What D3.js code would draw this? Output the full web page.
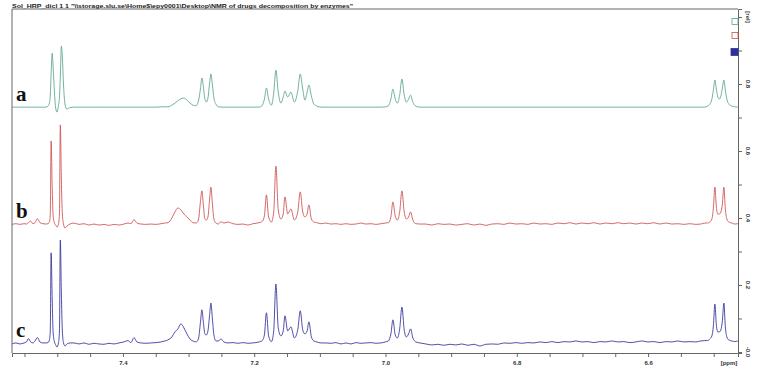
<!DOCTYPE html>
<html>
<head>
<meta charset="utf-8">
<script src="https://cdn.jsdelivr.net/npm/d3@7"></script>
<style>
  body { margin: 0; background: #fff; }
  svg { display: block; }
  text { font-family: "Liberation Sans", Arial, sans-serif; }
  text.lbl { font-family: "Liberation Serif", "Times New Roman", serif; }
</style>
</head>
<body>
<svg id="chart" width="763" height="374"></svg>
<script>
const title = String.raw`Sol_HRP_dicl  1  1  "\\storage.slu.se\Home$\epy0001\Desktop\NMR of drugs decomposition by enzymes"`;

// chemical shift grid (ppm), shared by the three traces
const ppm = [
  7.5691, 7.5630, 7.5569, 7.5508, 7.5470, 7.5439, 7.5409, 7.5371, 7.5340, 7.5302, 7.5264, 7.5219, 7.5173,
  7.5142, 7.5120, 7.5107, 7.5094, 7.5078, 7.5063, 7.5043, 7.5024, 7.5005, 7.4982, 7.4967, 7.4954, 7.4938, 7.4923, 7.4905, 7.4883, 7.4853, 7.4807,
  7.4746, 7.4670, 7.4594, 7.4518, 7.4442, 7.4366, 7.4289, 7.4213, 7.4137, 7.4061, 7.3985, 7.3924, 7.3878, 7.3832, 7.3787, 7.3726, 7.3650, 7.3574, 7.3497, 7.3421, 7.3360,
  7.3315, 7.3254, 7.3208, 7.3162, 7.3117, 7.3071, 7.3025, 7.2979, 7.2934, 7.2888, 7.2850, 7.2820, 7.2797, 7.2774, 7.2751, 7.2728, 7.2705, 7.2679, 7.2660, 7.2637, 7.2614, 7.2583, 7.2545, 7.2507, 7.2462, 7.2401,
  7.2324, 7.2248, 7.2172, 7.2096, 7.2020,
  7.1928, 7.1883, 7.1845, 7.1814, 7.1781, 7.1738, 7.1703, 7.1670, 7.1634, 7.1593, 7.1558, 7.1532, 7.1490, 7.1441, 7.1388, 7.1337, 7.1299, 7.1261, 7.1228, 7.1194, 7.1167, 7.1129, 7.1091, 7.1045, 7.0984,
  7.0908, 7.0832, 7.0756, 7.0679, 7.0603, 7.0527, 7.0451, 7.0375, 7.0299, 7.0222, 7.0146, 7.0070, 7.0002,
  6.9956, 6.9918, 6.9887, 6.9852, 6.9819, 6.9784, 6.9750, 6.9715, 6.9682, 6.9648, 6.9618, 6.9583, 6.9537, 6.9476,
  6.9385, 6.9293, 6.9202, 6.9111, 6.9019, 6.8928, 6.8836, 6.8745, 6.8654, 6.8562, 6.8471, 6.8380, 6.8288, 6.8197, 6.8105, 6.8014,
  6.7923, 6.7831, 6.7740, 6.7648, 6.7557, 6.7466, 6.7374, 6.7283, 6.7191, 6.7100, 6.7009, 6.6917, 6.6826, 6.6734, 6.6643, 6.6552,
  6.6460, 6.6369, 6.6277, 6.6186, 6.6095, 6.6003, 6.5912, 6.5820, 6.5729, 6.5638, 6.5546, 6.5455, 6.5363, 6.5272, 6.5196, 6.5135,
  6.5097, 6.5059, 6.5028, 6.5005, 6.4982, 6.4960, 6.4937, 6.4914, 6.4891, 6.4868, 6.4845, 6.4823, 6.4800, 6.4769, 6.4724, 6.4678, 6.4632
];

// intensity above each trace's own baseline (rel)
const specA = [
  0, 0, 0, 0, 0, 0, 0, 0, 0, 0, 0, 0, 0,
  0.003, 0.012, 0.036, 0.099, 0.161, 0.119, 0.042, -0.003, -0.015, 0.006, 0.030, 0.090, 0.182, 0.149, 0.066, 0.009, -0.006, -0.001,
  0, 0, 0, 0, 0, 0, 0, 0, 0, 0, 0, 0, 0, 0, 0, 0, 0, 0, 0, 0.001, 0.001,
  0.001, 0.006, 0.012, 0.019, 0.025, 0.027, 0.021, 0.012, 0.006, 0.004, 0.018, 0.054, 0.087, 0.060, 0.024, 0.015, 0.027, 0.072, 0.099, 0.066, 0.027, 0.009, 0.001, 0, 0, 0,
  0, 0, 0, 0, 0,
  0, 0.004, 0.024, 0.057, 0.024, 0.006, 0.042, 0.110, 0.045, 0.012, 0.030, 0.048, 0.030, 0.045, 0.015, 0.048, 0.099, 0.054, 0.021, 0.045, 0.066, 0.033, 0.009, 0.003, 0,
  0, 0, 0, 0, 0, 0, 0, 0, 0, 0, 0, 0, 0.001,
  0.004, 0.024, 0.054, 0.024, 0.012, 0.036, 0.084, 0.036, 0.015, 0.024, 0.036, 0.015, 0.003, 0,
  0, 0, 0, 0, 0, 0, 0, 0, 0, 0, 0, 0, 0, 0, 0, 0,
  0, 0, 0, 0, 0, 0, 0, 0, 0, 0, 0, 0, 0, 0, 0, 0,
  0, 0, 0, 0, 0, 0, 0, 0, 0, 0, 0, 0, 0, 0, 0, 0,
  0.003, 0.009, 0.024, 0.051, 0.081, 0.054, 0.030, 0.024, 0.033, 0.057, 0.081, 0.051, 0.024, 0.009, 0.003, 0.001, 0
];

const specB = [
  -0.001, 0.001, -0.001, 0.001, 0, 0.004, 0.009, 0.001, 0.004, 0.016, 0.004, 0.001, 0,
  0.001, 0.006, 0.030, 0.248, 0.113, 0.024, 0.003, -0.003, -0.009, 0, 0.030, 0.296, 0.134, 0.030, 0, -0.012, -0.006, 0,
  0.003, -0.001, 0.001, -0.003, 0, -0.003, -0.001, -0.004, -0.001, -0.003, 0, 0.003, 0.001, 0.013, 0.003, 0, -0.001, 0, -0.001, 0.001, 0.003,
  0.004, 0.018, 0.036, 0.048, 0.042, 0.030, 0.021, 0.012, 0.004, 0.003, 0.012, 0.066, 0.099, 0.054, 0.015, 0.012, 0.021, 0.075, 0.110, 0.060, 0.015, 0.003, 0, 0.007, 0.003, 0.006,
  0.001, -0.001, 0, -0.003, 0.001,
  0.004, 0.007, 0.024, 0.087, 0.021, 0.006, 0.036, 0.173, 0.042, 0.015, 0.030, 0.081, 0.030, 0.045, 0.012, 0.036, 0.096, 0.036, 0.021, 0.030, 0.057, 0.015, 0.006, 0.004, 0.001,
  0.003, 0, 0.001, -0.001, 0.001, -0.001, 0, 0.003, 0, 0.001, -0.001, 0.001, 0.003,
  0.004, 0.021, 0.066, 0.024, 0.012, 0.036, 0.099, 0.036, 0.015, 0.021, 0.036, 0.012, 0.001, 0,
  0, -0.003, 0.001, -0.001, 0, -0.003, -0.001, 0.001, -0.003, 0, -0.004, 0, 0.001, -0.001, 0.003, 0,
  0.001, -0.001, 0.003, 0, 0.001, -0.001, 0.003, 0.001, 0.004, 0, 0.003, 0.001, 0.004, 0, 0.003, 0.001,
  0.004, 0.001, 0.003, 0, 0.003, 0.001, 0.004, 0, 0.003, 0, 0.001, -0.001, 0.001, -0.001, 0, 0.003,
  0.003, 0.006, 0.015, 0.048, 0.110, 0.051, 0.030, 0.030, 0.036, 0.060, 0.110, 0.045, 0.015, 0.006, 0.003, 0, 0.001
];

const specC = [
  -0.003, 0, -0.003, 0, 0.003, 0.013, 0.004, 0, 0.006, 0.016, 0.003, 0, 0,
  0.001, 0.009, 0.036, 0.269, 0.134, 0.030, 0.003, -0.006, -0.012, 0, 0.036, 0.307, 0.149, 0.036, 0, -0.009, -0.003, 0,
  0, -0.003, 0, -0.004, -0.001, -0.003, -0.004, -0.001, -0.003, 0, 0.003, 0.007, 0.001, 0.016, 0.003, 0, -0.001, 0, 0.001, 0.003, 0.006,
  0.009, 0.018, 0.033, 0.042, 0.057, 0.045, 0.027, 0.012, 0.006, 0.003, 0.012, 0.060, 0.099, 0.060, 0.027, 0.024, 0.036, 0.084, 0.119, 0.072, 0.024, 0.006, 0.006, 0.012, 0.003, 0,
  0.001, -0.001, 0.001, -0.001, 0,
  0.003, 0.006, 0.024, 0.090, 0.021, 0.004, 0.036, 0.176, 0.045, 0.021, 0.036, 0.081, 0.036, 0.048, 0.015, 0.039, 0.096, 0.039, 0.027, 0.036, 0.063, 0.018, 0.006, 0.003, 0,
  0, -0.001, 0.001, -0.003, 0, -0.003, 0.001, -0.001, 0, 0.001, -0.001, 0, 0.003,
  0.006, 0.027, 0.069, 0.024, 0.015, 0.042, 0.107, 0.039, 0.018, 0.027, 0.042, 0.015, 0.003, 0,
  -0.003, -0.006, -0.004, -0.007, -0.004, -0.006, -0.003, -0.007, -0.004, -0.009, -0.004, -0.003, -0.004, 0, -0.001, 0.001,
  -0.001, 0.001, 0, 0.003, 0.001, 0.004, 0.001, 0.004, 0.003, 0.006, 0.003, 0.004, 0.001, 0.004, 0.003, 0.006,
  0.003, 0.004, 0.001, 0.003, 0.006, 0.003, 0.004, 0.001, 0.004, 0.003, 0.006, 0.003, 0.004, 0.003, 0.006, 0.007,
  0.007, 0.012, 0.021, 0.051, 0.116, 0.054, 0.033, 0.033, 0.039, 0.066, 0.119, 0.048, 0.018, 0.009, 0.006, 0.004, 0.006
];

const traceNames = ['a', 'b', 'c'];
const traceOffsets = [0.731, 0.382, 0.027];
const traceColors = ['#5aa586', '#cc4f52', '#30309a'];

const ppmTicks = [7.55, 7.5, 7.45, 7.4, 7.35, 7.3, 7.25, 7.2, 7.15, 7.1, 7.05, 7.0, 6.95, 6.9, 6.85, 6.8, 6.75, 6.7, 6.65, 6.6, 6.55, 6.5];
const ppmLabels = [7.4, 7.2, 7.0, 6.8, 6.6];
const relTicks = [0, 0.1, 0.2, 0.3, 0.4, 0.5, 0.6, 0.7, 0.8, 0.9, 1.0];
const relLabels = [0, 0.2, 0.4, 0.6, 0.8];

const svg = d3.select('#chart');
const pLeft = 12, pRight = 738, pTop = 9, pBottom = 353;

const x = d3.scaleLinear().domain([7.569, 6.463]).range([pLeft, pRight]);
const y = d3.scaleLinear().domain([-0.003, 1.024]).range([pBottom, pTop]);

svg.append('text')
    .attr('x', 12).attr('y', 7.5)
    .attr('font-size', 6.2).attr('font-weight', 'bold')
    .attr('textLength', 341).attr('lengthAdjust', 'spacingAndGlyphs')
    .attr('fill', '#222')
    .text(title);

svg.append('defs').append('clipPath').attr('id', 'plotclip')
  .append('rect').attr('x', pLeft).attr('y', pTop).attr('width', pRight - pLeft).attr('height', pBottom - pTop);

const specs = [specA, specB, specC];
const plot = svg.append('g').attr('clip-path', 'url(#plotclip)');

specs.forEach((spec, k) => {
  const line = d3.line()
      .x(i => x(ppm[i]))
      .y(i => y(traceOffsets[k] + spec[i]))
      .curve(d3.curveMonotoneX);
  plot.append('path')
      .attr('d', line(d3.range(ppm.length)))
      .attr('fill', 'none')
      .attr('stroke', traceColors[k])
      .attr('stroke-width', 0.85)
      .attr('stroke-linejoin', 'round');
});

// trace letters
svg.selectAll('.lbl')
  .data(traceNames)
  .enter().append('text')
    .attr('class', 'lbl')
    .attr('x', 16)
    .attr('y', (d, k) => y(traceOffsets[k]) - 6)
    .attr('font-weight', 'bold')
    .attr('font-size', 21)
    .attr('fill', '#111')
    .text(d => d);

// frame
svg.append('path')
    .attr('d', `M${pLeft},${pBottom}V${pTop}H${pRight}`)
    .attr('fill', 'none').attr('stroke', '#666').attr('stroke-width', 1);

// bottom axis
const xAxis = d3.axisBottom(x)
    .tickValues(ppmTicks)
    .tickSize(4)
    .tickFormat(d => ppmLabels.some(v => Math.abs(v - d) < 1e-6) ? d3.format('.1f')(d) : '');
const gx = svg.append('g').attr('transform', `translate(0,${pBottom})`).call(xAxis);
gx.select('.domain').attr('stroke', '#666');
gx.selectAll('.tick line').attr('stroke', '#666');
gx.selectAll('.tick text').attr('font-size', 6).attr('font-weight', 'bold').attr('fill', '#333')
    .attr('dy', '0.9em');
svg.append('text').attr('x', 729).attr('y', 365)
    .attr('text-anchor', 'middle').attr('font-size', 6).attr('font-weight', 'bold').attr('fill', '#333')
    .text('[ppm]');

// right axis
const yAxis = d3.axisRight(y).tickValues(relTicks).tickSize(4).tickFormat('');
const gy = svg.append('g').attr('transform', `translate(${pRight},0)`).call(yAxis);
gy.select('.domain').attr('stroke', '#666');
gy.selectAll('.tick line').attr('stroke', '#666');

svg.selectAll('.rl')
  .data(relLabels)
  .enter().append('text')
    .attr('class', 'rl')
    .attr('transform', d => `translate(746,${y(d)}) rotate(90)`)
    .attr('text-anchor', 'middle')
    .attr('font-size', 6).attr('font-weight', 'bold').attr('fill', '#333')
    .text(d => d === 0 ? '-0.0' : d3.format('.1f')(d));
svg.append('text')
    .attr('transform', 'translate(746,17) rotate(90)')
    .attr('text-anchor', 'middle')
    .attr('font-size', 6).attr('font-weight', 'bold').attr('fill', '#333')
    .text('[rel]');

// legend boxes
svg.selectAll('.box')
  .data(traceColors)
  .enter().append('rect')
    .attr('class', 'box')
    .attr('x', (d, k) => k === 2 ? 731 : 732)
    .attr('y', (d, k) => [18.5, 32.5, 48.5][k])
    .attr('width', (d, k) => k === 2 ? 7 : 6)
    .attr('height', (d, k) => k === 2 ? 7 : 6)
    .attr('fill', (d, k) => k === 2 ? d : '#fff')
    .attr('stroke', d => d)
    .attr('stroke-width', 0.8);
</script>
</body>
</html>
